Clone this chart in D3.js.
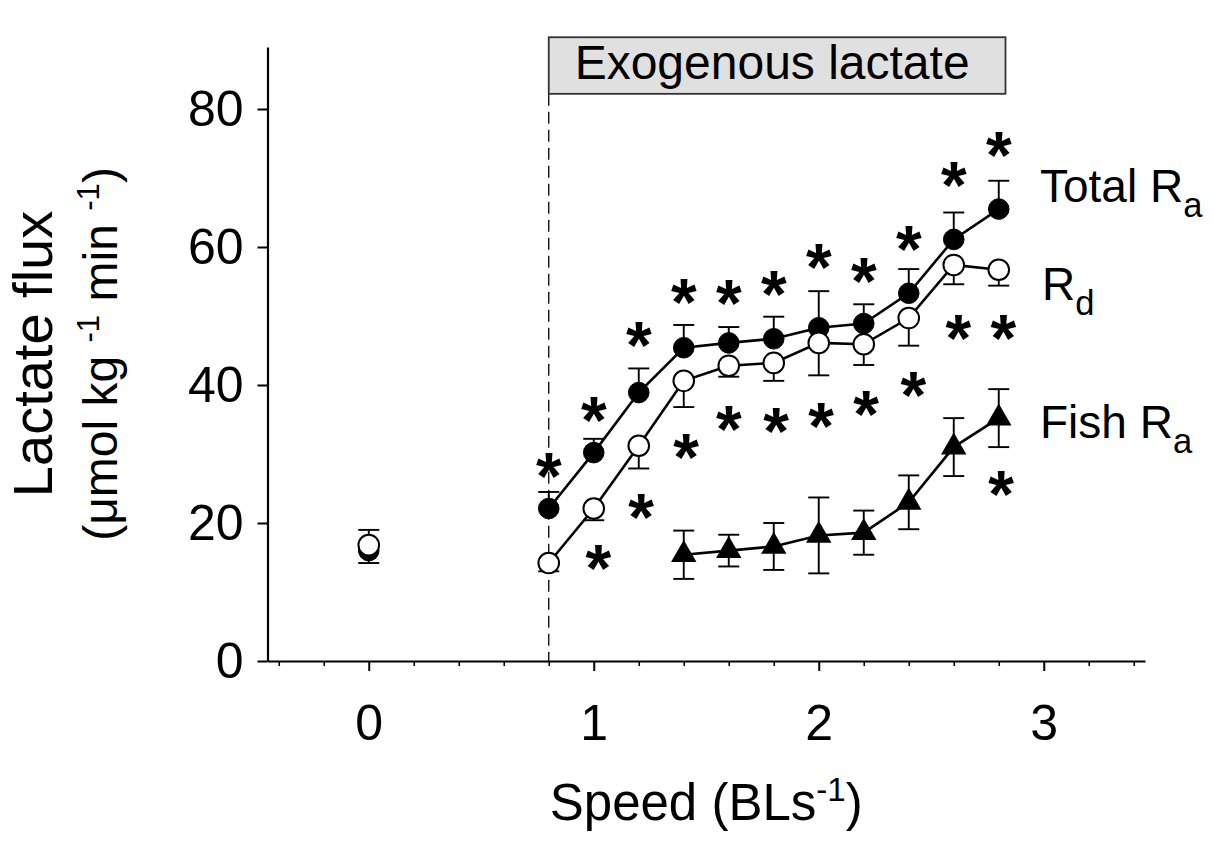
<!DOCTYPE html>
<html>
<head>
<meta charset="utf-8">
<script src="https://cdn.jsdelivr.net/npm/d3@7"></script>
<style>
  html, body { margin: 0; padding: 0; background: #fff; }
  svg { display: block; font-family: Arial, "Liberation Sans", Helvetica, sans-serif; }
</style>
</head>
<body>
<svg id="chart" width="1214" height="842"></svg>
<script>
// ---------------- DATA ----------------
const speeds = [0, 0.8, 1.0, 1.2, 1.4, 1.6, 1.8, 2.0, 2.2, 2.4, 2.6, 2.8];

// Total Ra (filled circles), error shown upward
const totalRa    = [16.0, 22.1, 30.2, 38.9, 45.4, 46.1, 46.7, 48.3, 48.9, 53.3, 61.1, 65.5];
const totalRaErr = [3.0,  2.4,  2.0,  3.5,  3.3,  2.3,  3.2,  5.3,  2.8,  3.5,  3.9,  4.1];

// Rd (open circles), error shown downward
const rd    = [16.8, 14.2, 22.1, 31.2, 40.6, 42.8, 43.2, 46.1, 45.9, 49.7, 57.4, 56.7];
const rdErr = [2.6,  1.2,  1.7,  3.3,  3.8,  1.6,  2.6,  4.7,  3.0,  4.0,  2.8,  2.3];

// Fish Ra (filled triangles), error both ways
const fishSpeeds = [1.4, 1.6, 1.8, 2.0, 2.2, 2.4, 2.6, 2.8];
const fishRa     = [15.4, 16.0, 16.6, 18.2, 18.6, 23.0, 31.0, 35.2];
const fishRaErr  = [3.5, 2.3, 3.4, 5.5, 3.2, 3.9, 4.2, 4.2];

// significance asterisks (speed, flux)
const starsTotal = [[0.8,28.7],[1.0,36.9],[1.2,47.7],[1.4,54.0],[1.6,53.8],[1.8,55.1],[2.0,59.1],[2.2,57.0],[2.4,61.7],[2.6,70.9],[2.8,75.3]];
const starsRd    = [[1.02,15.4],[1.21,22.8],[1.41,31.5],[1.6,35.6],[1.81,35.2],[2.01,36.0],[2.21,37.7],[2.42,40.5],[2.62,48.8],[2.82,48.8]];
const starsFish  = [[2.81,26.2]];

const xMajorTicks = [0, 1, 2, 3];
const xMinorTicks = [-0.4,-0.2,0.2,0.4,0.6,0.8,1.2,1.4,1.6,1.8,2.2,2.4,2.6,2.8,3.2,3.4];
const yTicks = [0, 20, 40, 60, 80];

const exoStart = 0.8, exoEnd = 2.83, exoBottom = 82.2, exoTop = 90.4;
const boxLabel = "Exogenous lactate";

// ---------------- CHART ----------------
const svg = d3.select("#chart");
const x = d3.scaleLinear().domain([-0.45, 3.45]).range([267.5, 1145]);
const y = d3.scaleLinear().domain([0, 89]).range([661, 661 - 89 * 6.9]);

const FS = 48;
const TFS = 50;
const FONT = "Arial, Liberation Sans, sans-serif";

// axes
const gxMinor = svg.append("g").attr("transform", `translate(0,${y(0)})`);
gxMinor.call(d3.axisBottom(x).tickValues(xMinorTicks).tickSize(5).tickSizeOuter(0).tickFormat(""));
gxMinor.select("path.domain").remove();
gxMinor.selectAll(".tick line").attr("stroke-width", 1.6);

const gx = svg.append("g").attr("transform", `translate(0,${y(0)})`);
gx.call(d3.axisBottom(x).tickValues(xMajorTicks).tickSize(10).tickSizeOuter(0).tickPadding(33).tickFormat(d3.format("d")));
gx.selectAll("path.domain").attr("stroke-width", 2.2);
gx.selectAll(".tick line").attr("stroke-width", 2);
gx.selectAll("text").attr("font-size", TFS).attr("font-family", FONT).attr("fill", "#000");

const gy = svg.append("g").attr("transform", `translate(${x(-0.45)},0)`);
gy.call(d3.axisLeft(y).tickValues(yTicks).tickSize(10).tickSizeOuter(0).tickPadding(14).tickFormat(d3.format("d")));
gy.selectAll("path.domain").attr("stroke-width", 2.2);
gy.selectAll(".tick line").attr("stroke-width", 2);
gy.selectAll("text").attr("font-size", TFS).attr("font-family", FONT).attr("fill", "#000");

// Exogenous lactate box + dashed line
svg.append("line")
  .attr("x1", x(exoStart)).attr("x2", x(exoStart))
  .attr("y1", y(exoBottom)).attr("y2", y(0))
  .attr("stroke", "#000").attr("stroke-width", 1.3).attr("stroke-dasharray", "12,6");
svg.append("rect")
  .attr("x", x(exoStart)).attr("y", y(exoTop))
  .attr("width", x(exoEnd) - x(exoStart)).attr("height", y(exoBottom) - y(exoTop))
  .attr("fill", "#e0e0e0").attr("stroke", "#333").attr("stroke-width", 1.8);
svg.append("text")
  .attr("x", (x(exoStart) + x(exoEnd)) / 2 - 5).attr("y", y(exoBottom) - 15)
  .attr("text-anchor", "middle").attr("font-size", FS).text(boxLabel);

// lines
const line = d3.line().x(d => x(d[0])).y(d => y(d[1]));
const totalPts = speeds.map((s, i) => [s, totalRa[i], totalRaErr[i]]);
const rdPts = speeds.map((s, i) => [s, rd[i], rdErr[i]]);
const fishPts = fishSpeeds.map((s, i) => [s, fishRa[i], fishRaErr[i]]);

[totalPts.slice(1), rdPts.slice(1), fishPts].forEach(pts => {
  svg.append("path").attr("d", line(pts)).attr("fill", "none").attr("stroke", "#000").attr("stroke-width", 2.6);
});

// error bars
const cap = 10.5;
function errBars(pts, up, down) {
  const g = svg.append("g").attr("stroke", "#000").attr("stroke-width", 1.9);
  pts.forEach(d => {
    const cx = x(d[0]);
    if (up) {
      g.append("line").attr("x1", cx).attr("x2", cx).attr("y1", y(d[1])).attr("y2", y(d[1] + d[2]));
      g.append("line").attr("x1", cx - cap).attr("x2", cx + cap).attr("y1", y(d[1] + d[2])).attr("y2", y(d[1] + d[2]));
    }
    if (down) {
      g.append("line").attr("x1", cx).attr("x2", cx).attr("y1", y(d[1])).attr("y2", y(d[1] - d[2]));
      g.append("line").attr("x1", cx - cap).attr("x2", cx + cap).attr("y1", y(d[1] - d[2])).attr("y2", y(d[1] - d[2]));
    }
  });
}
errBars(totalPts, true, false);
errBars(rdPts, false, true);
errBars(fishPts, true, true);

// markers
svg.append("g").selectAll("circle").data(totalPts).join("circle")
  .attr("cx", d => x(d[0])).attr("cy", d => y(d[1])).attr("r", 10.3)
  .attr("fill", "#000").attr("stroke", "#000").attr("stroke-width", 1);
svg.append("g").selectAll("circle").data(rdPts).join("circle")
  .attr("cx", d => x(d[0])).attr("cy", d => y(d[1])).attr("r", 10.3)
  .attr("fill", "#fff").attr("stroke", "#000").attr("stroke-width", 2);
svg.append("g").selectAll("path").data(fishPts).join("path")
  .attr("d", d3.symbol(d3.symbolTriangle, 280))
  .attr("transform", d => `translate(${x(d[0])},${y(d[1])})`)
  .attr("fill", "#000");

// asterisks
const SFS = 66;
[...starsTotal, ...starsRd, ...starsFish].forEach(d => {
  svg.append("text")
    .attr("x", x(d[0])).attr("y", y(d[1]) + SFS * 0.55)
    .attr("text-anchor", "middle").attr("font-size", SFS).attr("font-weight", "bold")
    .text("*");
});

// series labels
function subLabel(txt, sub, xp, yp) {
  const t = svg.append("text").attr("x", xp).attr("y", yp).attr("font-size", FS - 2);
  t.append("tspan").text(txt);
  t.append("tspan").attr("dy", 15).attr("font-size", FS * 0.72).text(sub);
}
subLabel("Total R", "a", 1040, 202);
subLabel("R", "d", 1042, 300);
subLabel("Fish R", "a", 1040, 438);

// axis titles
const yt = svg.append("g").attr("transform", `translate(0,${(y(0) + y(89)) / 2}) rotate(-90)`);
yt.append("text").attr("x", 0).attr("y", 52).attr("text-anchor", "middle").attr("font-size", 56).text("Lactate flux");
const yt2 = yt.append("text").attr("x", 0).attr("y", 117).attr("text-anchor", "middle").attr("font-size", FS);
yt2.append("tspan").text("(\u03bcmol kg ");
yt2.append("tspan").attr("dy", -18).attr("font-size", FS * 0.65).text("-1");
yt2.append("tspan").attr("dy", 18).text(" min ");
yt2.append("tspan").attr("dy", -18).attr("font-size", FS * 0.65).text("-1");
yt2.append("tspan").attr("dy", 18).text(")");

const xt = svg.append("text").attr("x", (x(-0.45) + x(3.45)) / 2).attr("y", 820)
  .attr("text-anchor", "middle").attr("font-size", 51);
xt.append("tspan").text("Speed (BLs");
xt.append("tspan").attr("dy", -19).attr("font-size", 51 * 0.65).text("-1");
xt.append("tspan").attr("dy", 19).text(")");
</script>
</body>
</html>
